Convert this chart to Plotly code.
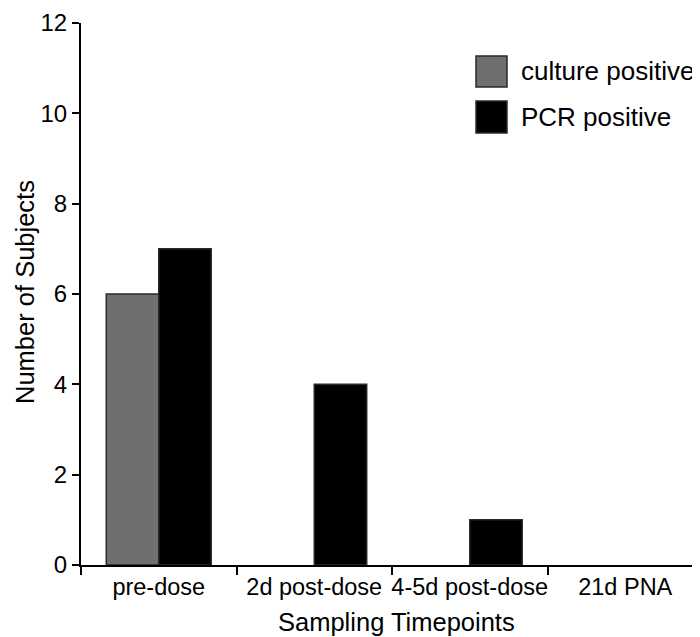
import plotly.graph_objects as go

categories = ["pre-dose", "2d post-dose", "4-5d post-dose", "21d PNA"]
culture_positive = [6, 0, 0, 0]
pcr_positive = [7, 4, 1, 0]
series_names = ["culture positive", "PCR positive"]
y_ticks = [0, 2, 4, 6, 8, 10, 12]
x_title = "Sampling Timepoints"
y_title = "Number of Subjects"

FONT = "Liberation Sans, Arial, Helvetica, sans-serif"
W, H = 700, 637
L, R, T, B = 73, 5, 15, 80
pw, ph = W - L - R, H - T - B

fig = go.Figure()
fig.add_trace(go.Bar(x=categories, y=culture_positive, name=series_names[0],
                     marker=dict(color="#6f6f6f",
                                 line=dict(color="#2a2a2a",
                                           width=[1.5 if v > 0 else 0 for v in culture_positive])),
                     showlegend=False))
fig.add_trace(go.Bar(x=categories, y=pcr_positive, name=series_names[1],
                     marker=dict(color="#000000",
                                 line=dict(color="#2a2a2a",
                                           width=[1.5 if v > 0 else 0 for v in pcr_positive])),
                     showlegend=False))

def px_x(x):
    return (x - L) / pw

def px_y(y):
    return (H - B - y) / ph

# custom legend (large swatches as in the reference)
legend_items = [("#6f6f6f", series_names[0], 48, 79), ("#000000", series_names[1], 93, 125)]
for col, name, y0, y1 in legend_items:
    fig.add_shape(type="rect", xref="paper", yref="paper",
                  x0=px_x(468), x1=px_x(499), y0=px_y(y1), y1=px_y(y0),
                  fillcolor=col, line=dict(color="#2a2a2a", width=1.5))
    fig.add_annotation(xref="paper", yref="paper", x=px_x(511), y=px_y((y0 + y1) / 2),
                       text=name, showarrow=False, xanchor="left", yanchor="middle",
                       font=dict(family=FONT, size=26, color="black"))

# axis titles
fig.add_annotation(xref="paper", yref="paper", x=px_x(388), y=px_y(614),
                   text=x_title, showarrow=False, xanchor="center", yanchor="middle",
                   font=dict(family=FONT, size=25.5, color="black"))
fig.add_annotation(xref="paper", yref="paper", x=px_x(17), y=px_y(284),
                   text=y_title, showarrow=False, xanchor="center", yanchor="middle",
                   textangle=-90,
                   font=dict(family=FONT, size=25.5, color="black"))

fig.update_layout(
    width=W, height=H,
    margin=dict(l=L, r=R, t=T, b=B),
    paper_bgcolor="white", plot_bgcolor="white",
    barmode="group", bargap=0.325, bargroupgap=0,
    font=dict(family=FONT, color="black"),
    xaxis=dict(
        type="category", range=[-0.5, 3.5], automargin=False, tickangle=0,
        showline=True, linecolor="black", linewidth=2,
        ticks="outside", tickson="boundaries", ticklen=8, tickwidth=2, tickcolor="black",
        showgrid=False, zeroline=False,
        tickfont=dict(family=FONT, size=23.5),
    ),
    yaxis=dict(
        range=[0, 12], tickvals=y_ticks, automargin=False,
        showline=True, linecolor="black", linewidth=2,
        ticks="outside", ticklen=7, tickwidth=2, tickcolor="black",
        showgrid=False, zeroline=False,
        tickfont=dict(family=FONT, size=24),
    ),
)

fig.write_html("out.html")
